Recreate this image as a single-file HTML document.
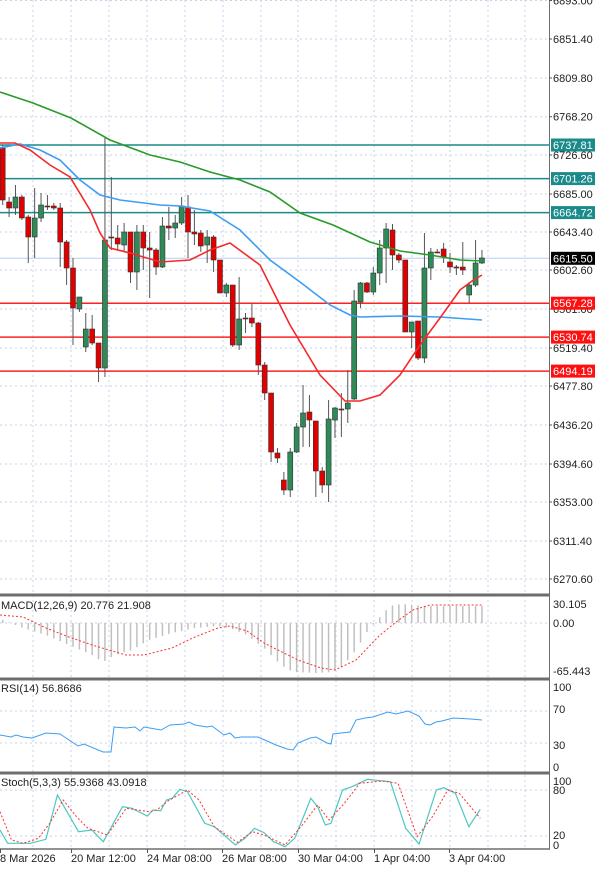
<!DOCTYPE html>
<html><head><meta charset="utf-8"><style>
body{margin:0;background:#fff;width:600px;height:870px;overflow:hidden}
svg{display:block;font-family:"Liberation Sans",sans-serif;font-size:11px}
</style></head><body>
<svg id="s" width="600" height="870" xmlns="http://www.w3.org/2000/svg"></svg>
<script>
const s=document.getElementById('s');let h='';
const P=(pts,c,w,d)=>'<polyline fill="none" stroke="'+c+'" stroke-width="'+w+'"'+(d?' stroke-dasharray="'+d+'"':'')+' points="'+pts.map(p=>p.join(',')).join(' ')+'"/>';
// grid
const gx=[33,71,109,147,185,223,261,298,336,374,412,450,488,525];
gx.forEach(x=>{h+='<line x1="'+x+'" y1="0" x2="'+x+'" y2="849" stroke="#c5d3ea" stroke-dasharray="2,3"/>';});
const ticks=[[6893.00,0.5],[6851.40,39],[6809.80,78],[6768.20,116.7],[6726.60,155],[6685.00,194],[6643.40,232],[6602.60,270],[6561.00,309],[6519.40,348],[6477.80,386],[6436.20,425],[6394.60,464],[6353.00,502],[6311.40,541],[6270.60,579]];
ticks.forEach(t=>{h+='<line x1="0" y1="'+t[1]+'" x2="549" y2="'+t[1]+'" stroke="#c5d3ea" stroke-dasharray="2,3"/>';});
[[0,623],[0,711],[0,743],[0,790],[0,836]].forEach(t=>{h+='<line x1="0" y1="'+t[1]+'" x2="549" y2="'+t[1]+'" stroke="#c5d3ea" stroke-dasharray="2,3"/>';});
// hlines
h+='<line x1="0" y1="258.3" x2="549" y2="258.3" stroke="#b9cdf0"/>';
[145,178.6,212.6].forEach(y=>h+='<line x1="0" y1="'+y+'" x2="549" y2="'+y+'" stroke="#1a8a8a" stroke-width="1.5"/>');
[303.2,337.1,371.1].forEach(y=>h+='<line x1="0" y1="'+y+'" x2="549" y2="'+y+'" stroke="#ff2020" stroke-width="1.5"/>');
// candles [o,c,hi,lo] pixel y
const C=[[148,200,145,205],[202,208,197,217],[208,197,185,215],[197,218,195,220],[217,237,215,263],[237,218,188,258],[218,205,193,222],[206,207,195,210],[206,208,203,210],[208,242,203,267],[242,268,240,285],[268,308,258,345],[309,297,297,312],[347,329,313,352],[329,343,315,345],[343,368,343,382],[368,240,138,377],[237,238,177,250],[238,244,225,250],[245,232,223,252],[232,272,232,283],[272,232,225,290],[232,248,225,270],[248,250,232,298],[250,267,248,275],[267,226,217,268],[226,228,207,240],[228,223,215,238],[223,206,197,225],[207,232,195,258],[232,234,210,245],[233,246,230,252],[245,237,230,263],[237,260,235,272],[260,293,260,293],[293,285,283,297],[285,345,285,347],[345,319,277,350],[318,318,313,333],[318,323,303,327],[323,365,322,375],[365,393,362,400],[393,452,393,462],[453,458,448,463],[480,490,472,495],[490,452,448,497],[452,427,423,453],[427,413,385,447],[412,420,395,447],[421,471,421,497],[471,485,467,493],[485,419,400,502],[420,408,407,438],[409,409,393,437],[409,403,370,423],[399,301,290,400],[302,283,282,308],[283,292,282,293],[292,273,267,295],[273,248,240,285],[248,229,223,283],[230,255,224,270],[255,260,253,263],[260,332,260,332],[332,322,322,348],[321,358,321,360],[358,268,233,363],[268,252,248,280],[252,252,249,253],[249,257,243,263],[262,267,253,273],[267,267,265,275],[267,270,242,275],[295,285,282,303],[285,263,240,287],[263,258,250,264]];
C.forEach((c,i)=>{const x=2.7+i*6.39;const up=c[1]<c[0];const t=Math.min(c[0],c[1]),b=Math.max(c[0],c[1]);
h+='<line x1="'+x+'" y1="'+c[2]+'" x2="'+x+'" y2="'+c[3]+'" stroke="#555"/>';
h+='<rect x="'+(x-2.5)+'" y="'+t+'" width="5" height="'+Math.max(1,b-t)+'" fill="'+(up?'#2e8b57':'#e00000')+'" stroke="#333" stroke-width="0.6"/>';});
// MAs
h+=P([[0,92],[33,103],[71,118],[110,140],[150,155],[180,162],[210,172],[240,180],[270,192],[300,213],[333,225],[370,242],[400,251],[430,255],[460,260],[482,261]],'#2a9a2a',1.6);
h+=P([[0,148],[20,144],[40,150],[60,160],[80,180],[100,195],[120,200],[160,205],[180,206],[210,211],[240,230],[270,260],[300,282],[330,305],[350,315],[360,317],[400,316],[440,317],[482,320]],'#3d9df2',1.6);
h+=P([[0,143],[15,143],[30,150],[50,165],[70,177],[90,210],[100,233],[110,248],[130,253],[160,262],[190,260],[210,250],[230,243],[260,265],[290,325],[320,375],[345,401],[360,401],[380,395],[400,375],[420,345],[440,318],[460,290],[472,281],[482,275]],'#f52a2a',1.6);
// MACD bars
const mb=[[3,620],[23,628],[46,635],[69,645],[92,655],[103,662],[115,655],[132,650],[149,640],[172,633],[195,628],[218,626],[230,628],[247,635],[264,648],[281,665],[293,672],[316,673],[333,672],[344,665],[356,650],[367,632],[379,618],[390,606],[402,604],[413,605],[425,606],[482,606]];
const ip=(a,x)=>{for(let i=1;i<a.length;i++)if(x<=a[i][0]){const p=a[i-1],q=a[i];return p[1]+(q[1]-p[1])*(x-p[0])/(q[0]-p[0]);}return a[a.length-1][1];};
for(let i=0;i<76;i++){const x=2.7+i*6.39;h+='<line x1="'+x+'" y1="623" x2="'+x+'" y2="'+ip(mb,x)+'" stroke="#c0c0c0" stroke-width="1.5"/>';}
h+=P([[0,615],[23,617],[46,628],[69,637],[92,645],[126,655],[144,655],[172,648],[195,637],[218,628],[230,626],[247,631],[264,643],[298,660],[321,668],[335,670],[356,660],[379,636],[396,622],[413,610],[430,605],[482,605]],'#ff3030',1,'2,2');
// RSI
h+=P([[0,735],[11,737],[16,735],[23,737],[32,738],[46,733],[60,734],[69,740],[78,746],[84,744],[103,752],[111,752],[114,727],[126,728],[135,727],[140,731],[144,727],[161,730],[170,725],[184,724],[189,722],[195,725],[207,727],[212,726],[224,735],[230,733],[235,738],[241,737],[258,737],[276,745],[287,749],[293,750],[298,743],[310,738],[316,737],[327,743],[331,744],[333,734],[350,732],[356,720],[365,718],[373,717],[388,712],[396,714],[408,711],[419,716],[425,724],[430,725],[436,722],[442,721],[453,718],[471,719],[482,720]],'#3d9df2',1);
// Stoch
const cv=a=>a.map(p=>[+(p[0]/2.613).toFixed(1),+(590+p[1]/3).toFixed(1)]);
h+=P(cv([[0,720],[20,760],[80,760],[120,748],[150,615],[205,725],[240,720],[270,755],[320,650],[345,655],[385,678],[400,660],[420,662],[435,630],[450,625],[470,598],[490,605],[535,700],[560,710],[615,765],[640,745],[665,715],[690,728],[715,755],[745,770],[770,745],[800,660],[812,625],[830,650],[850,705],[865,700],[895,600],[920,590],[960,568],[1000,573],[1020,575],[1060,715],[1095,762],[1140,600],[1160,593],[1190,610],[1225,710],[1255,658]]),'#4cc8c0',1.2);
h+=P(cv([[0,665],[30,750],[60,760],[100,745],[130,700],[165,630],[200,680],[230,715],[280,735],[330,655],[390,665],[410,660],[440,632],[490,600],[520,630],[560,710],[620,757],[660,725],[690,735],[745,765],[790,705],[830,645],[860,690],[900,640],[940,580],[1000,573],[1040,580],[1090,740],[1130,680],[1170,600],[1200,610],[1255,685]]),'#ff3030',1,'2,2');
// separators
[595,679,773].forEach(y=>h+='<rect x="0" y="'+(y-1.5)+'" width="550" height="3" fill="#6e6e6e"/>');
h+='<line x1="0" y1="849" x2="550" y2="849" stroke="#6e6e6e" stroke-width="1.5"/>';
h+='<line x1="549.5" y1="0" x2="549.5" y2="849" stroke="#6e6e6e"/>';
// axis labels
const tx=(x,y,t,c)=>h+='<text x="'+x+'" y="'+y+'" fill="'+(c||'#222')+'">'+t+'</text>';
ticks.forEach(t=>{h+='<line x1="549" y1="'+t[1]+'" x2="552" y2="'+t[1]+'" stroke="#555"/>';tx(553,t[1]+4,t[0].toFixed(2));});
const bx=(y,t,bg)=>{h+='<rect x="551" y="'+(y-6.5)+'" width="44" height="13" fill="'+bg+'"/>';tx(553,y+4,t,'#fff');};
bx(145,'6737.81','#1a8a8a');bx(178.6,'6701.26','#1a8a8a');bx(212.6,'6664.72','#1a8a8a');bx(258.3,'6615.50','#000');bx(303.2,'6567.28','#ff1010');bx(337.1,'6530.74','#ff1010');bx(371.1,'6494.19','#ff1010');
tx(553,608,'30.105');tx(553,627,'0.00');tx(553,675,'-65.443');
tx(553,691,'100');tx(553,713,'70');tx(553,749,'30');tx(553,771,'0');
tx(553,785,'100');tx(553,794,'80');tx(553,839,'20');tx(553,849,'0');
tx(1,609,'MACD(12,26,9) 20.776 21.908');tx(1,692,'RSI(14) 56.8686');tx(1,786,'Stoch(5,3,3) 55.9368 43.0918');
[[0,'8 Mar 2026'],[71,'20 Mar 12:00'],[147,'24 Mar 08:00'],[222,'26 Mar 08:00'],[298,'30 Mar 04:00'],[374,'1 Apr 04:00'],[449,'3 Apr 04:00']].forEach(d=>{tx(d[0],862,d[1]);h+='<line x1="'+(d[0]+0.5)+'" y1="849" x2="'+(d[0]+0.5)+'" y2="853" stroke="#555"/>';});
s.innerHTML=h;
</script>
</body></html>
